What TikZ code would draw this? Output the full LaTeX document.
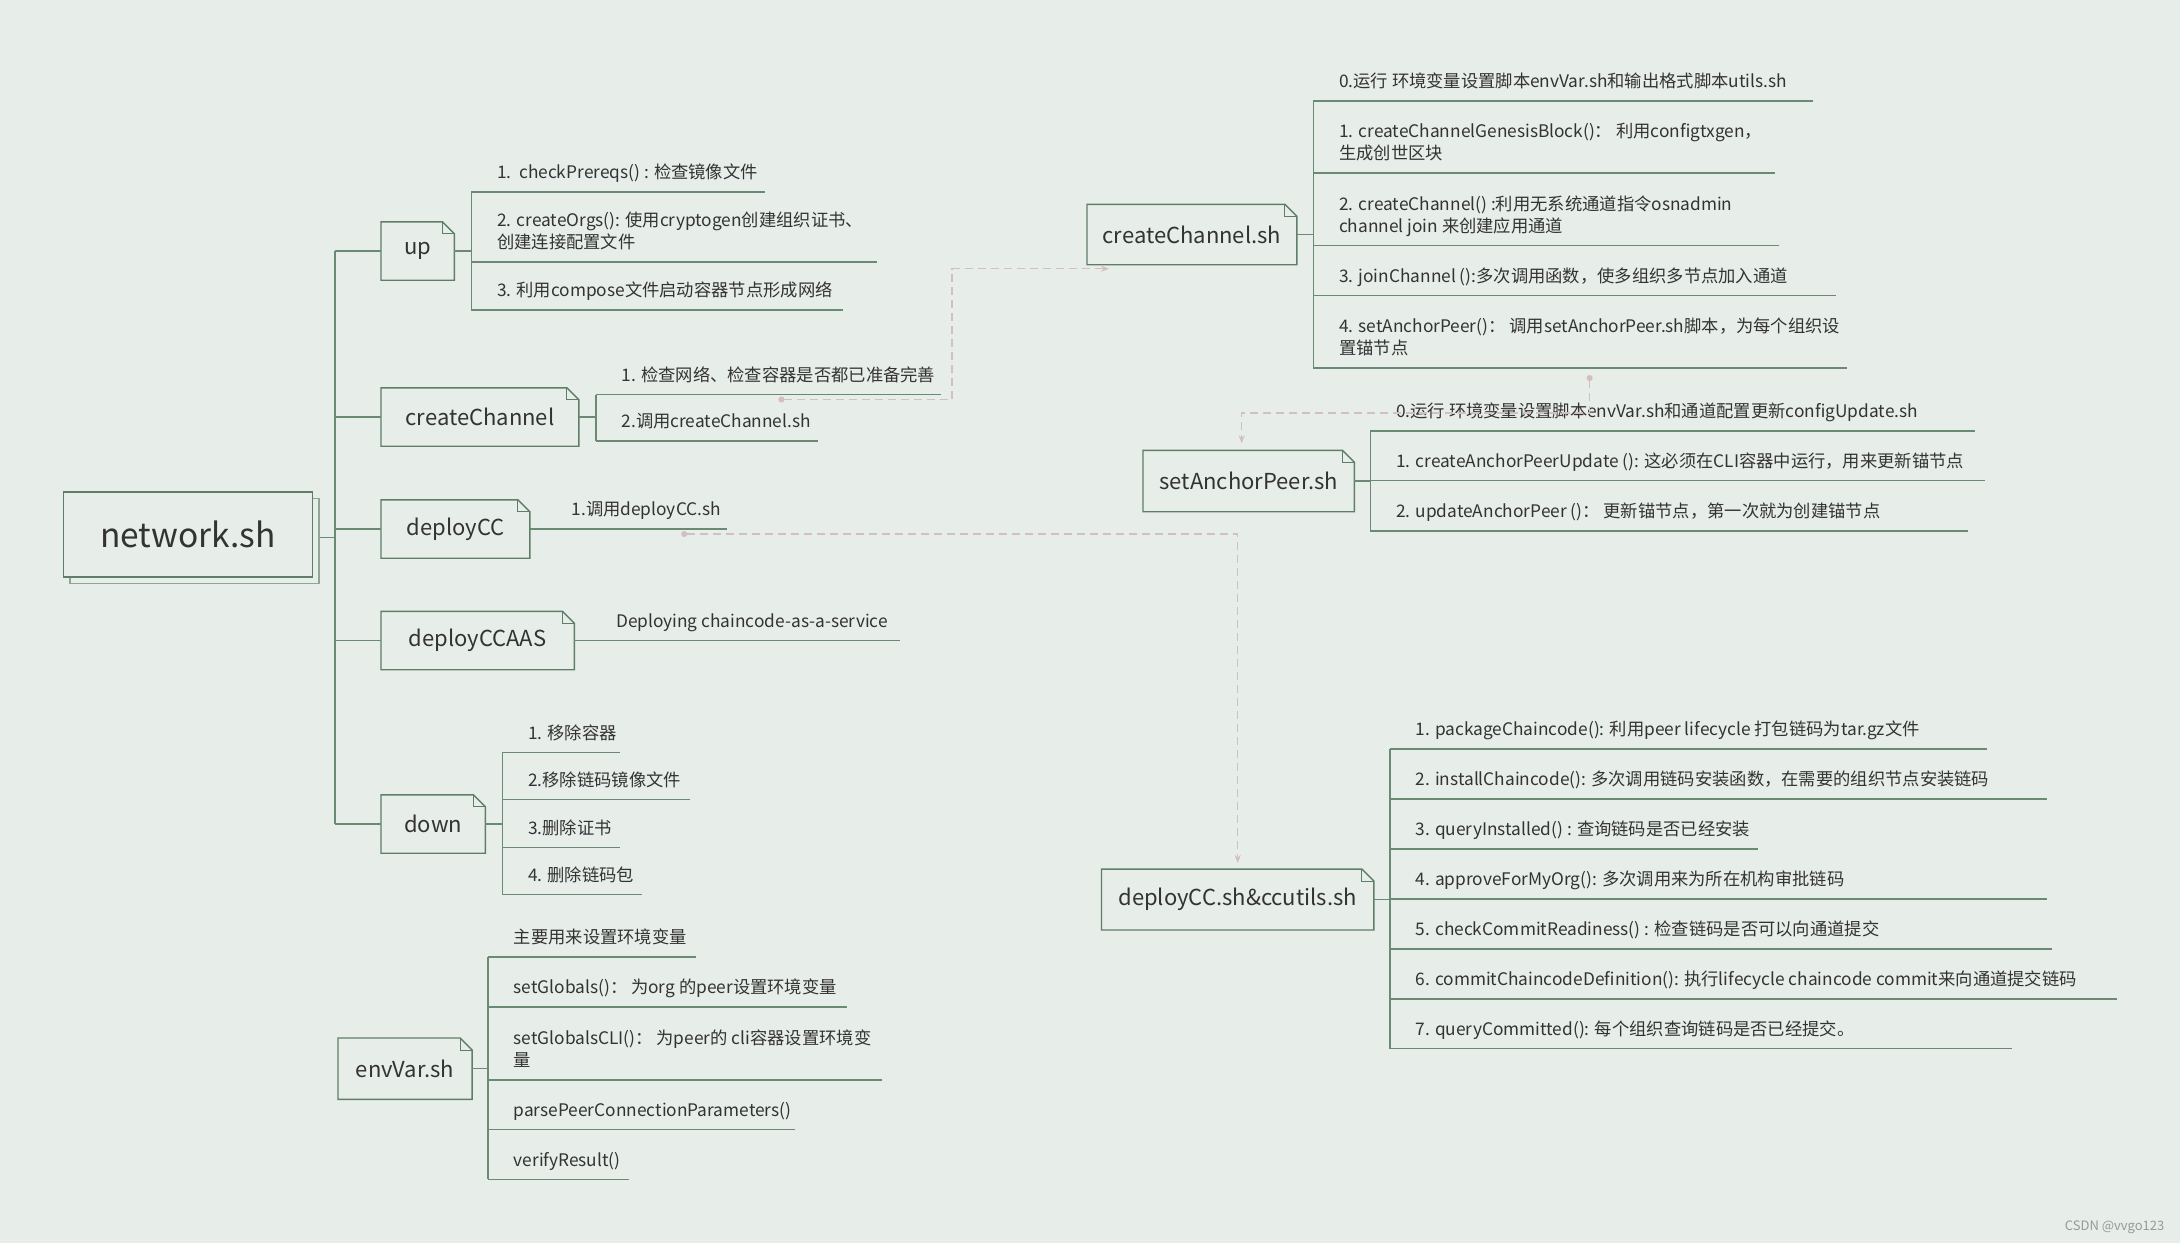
\documentclass[tikz,border=0pt]{standalone}
\usepackage{fontspec}
\setmainfont{Noto Sans CJK SC}
\usetikzlibrary{arrows.meta,shadows}

\definecolor{bg}{HTML}{E7EDE8}
\definecolor{lineg}{HTML}{5F7E67}
\definecolor{branchg}{HTML}{6B8A73}
\definecolor{shadowg}{HTML}{8EA795}
\definecolor{linkc}{HTML}{D3BEC4}
\definecolor{txt}{HTML}{333333}

\def\fold{12pt}

\begin{document}
\begin{tikzpicture}[x=1pt,y=-1pt,line width=1.4pt,text=txt]
  \tikzstyle{box}=[anchor=west,inner sep=0pt,minimum height=57pt,fill=bg,font=\fontsize{22}{27}\selectfont]
  \tikzstyle{leaf}=[anchor=south west,inner xsep=0pt,inner ysep=8pt,align=left,font=\fontsize{17.3}{22.3}\selectfont,execute at end node={\rule[-4.5pt]{0pt}{4.5pt}}]
  \tikzstyle{branch}=[draw=branchg]
  \tikzstyle{outline}=[draw=lineg]
  \tikzstyle{link}=[draw=linkc,dash pattern=on 8pt off 5pt,{Circle[length=6pt,fill=linkc]}-{Stealth[length=8pt,width=6pt]}]

  \fill[bg] (0,0) rectangle (2180,1243);
  \useasboundingbox (0,0) rectangle (2180,1243);

  % Draw the root and the script boxes
  \node[box,minimum width=249pt,minimum height=85pt,font=\fontsize{33.5}{38}\selectfont,draw=lineg,
        copy shadow={shadow xshift=6.5pt,shadow yshift=-6.5pt,draw=shadowg,fill=bg}] (net) at (62.6,534.3) {network.sh};
  \node[box,minimum width=72pt] (up) at (381,251) {up};
  \node[box,minimum width=196.5pt] (cch) at (381,417) {createChannel};
  \node[box,minimum width=147.5pt] (dc) at (381,529) {deployCC};
  \node[box,minimum width=192pt] (dca) at (381,640.5) {deployCCAAS};
  \node[box,minimum width=103pt] (dn) at (381,824) {down};
  \node[box,minimum width=132.7pt,minimum height=60pt] (env) at (338,1068.7) {envVar.sh};
  \node[box,minimum width=208.5pt,minimum height=59pt] (ccsh) at (1087,234.5) {createChannel.sh};
  \node[box,minimum width=210pt,minimum height=60pt] (sap) at (1143,481) {setAnchorPeer.sh};
  \node[box,minimum width=271pt,minimum height=59.5pt] (dcc) at (1101.5,899.5) {deployCC.sh\&ccutils.sh};

  % Outline with folded corner
  \foreach \b in {up,cch,dc,dca,dn,env,ccsh,sap,dcc}
  {
    \draw[outline] (\b.south west) -- (\b.north west) -- ([xshift=-\fold]\b.north east)
      -- ([yshift=-\fold]\b.north east) -- (\b.south east) -- cycle;
    \draw[outline,line width=1pt] ([xshift=-\fold]\b.north east) |- ([yshift=-\fold]\b.north east);
  }

  % Trunk from network.sh
  \coordinate (trk) at ([xshift=22pt,yshift=-3pt]net.east);
  \draw[branch] ([xshift=6.5pt,yshift=-3pt]net.east) -- (trk);
  \draw[branch] (trk |- up.west) -- (trk |- dn.west);
  \foreach \b in {up,cch,dc,dca,dn}
      \draw[branch] (trk |- \b.west) -- (\b.west);

  % up
  \coordinate (upb) at ([xshift=17pt]up.east);
  \foreach \n/\y/\e/\t in {u1/192/765/{1.\ \ checkPrereqs() : 检查镜像文件},
      u2/262/877/{2. createOrgs(): 使用cryptogen创建组织证书、\\创建连接配置文件},
      u3/310/843/{3. 利用compose文件启动容器节点形成网络}}
  {
      \node[leaf] (\n) at ([xshift=25pt]upb |- 0,\y) {\t};
      \draw[branch] (upb |- 0,\y) -- (\e,\y);
  }
  \draw[branch] (up.east) -- (upb);
  \draw[branch] (upb |- u1.south) -- (upb |- u3.south);

  % createChannel
  \coordinate (cchb) at ([xshift=17pt]cch.east);
  \foreach \n/\y/\e/\t in {c1/394.5/941/{1. 检查网络、检查容器是否都已准备完善},
      c2/441/817.5/{2.调用createChannel.sh}}
  {
      \node[leaf] (\n) at ([xshift=25pt]cchb |- 0,\y) {\t};
      \draw[branch] (cchb |- 0,\y) -- (\e,\y);
  }
  \draw[branch] (cch.east) -- (cchb);
  \draw[branch] (cchb |- c1.south) -- (cchb |- c2.south);

  % deployCC and deployCCAAS
  \node[leaf] (d1) at ([xshift=41pt]dc.east) {1.调用deployCC.sh};
  \draw[branch] (dc.east) -- (dc.east -| 727,0);
  \node[leaf] (a1) at ([xshift=41pt]dca.east) {Deploying chaincode-as-a-service};
  \draw[branch] (dca.east) -- (dca.east -| 899.5,0);

  % down
  \coordinate (dnb) at ([xshift=17pt]dn.east);
  \foreach \n/\y/\e/\t in {w1/752.5/620/{1. 移除容器},
      w2/799.7/690/{2.移除链码镜像文件},
      w3/847.4/620/{3.删除证书},
      w4/894.6/642/{4. 删除链码包}}
  {
      \node[leaf] (\n) at ([xshift=25pt]dnb |- 0,\y) {\t};
      \draw[branch] (dnb |- 0,\y) -- (\e,\y);
  }
  \draw[branch] (dn.east) -- (dnb);
  \draw[branch] (dnb |- w1.south) -- (dnb |- w4.south);

  % envVar.sh
  \coordinate (envb) at ([xshift=16pt]env.east);
  \foreach \n/\y/\e/\t in {e1/957/696/{主要用来设置环境变量},
      e2/1007/847/{setGlobals()： 为org 的peer设置环境变量},
      e3/1080/882/{setGlobalsCLI()： 为peer的 cli容器设置环境变\\量},
      e4/1129.4/795/{parsePeerConnectionParameters()},
      e5/1179.3/629/{verifyResult()}}
  {
      \node[leaf] (\n) at ([xshift=25pt]envb |- 0,\y) {\t};
      \draw[branch] (envb |- 0,\y) -- (\e,\y);
  }
  \draw[branch] (env.east) -- (envb);
  \draw[branch] (envb |- e1.south) -- (envb |- e5.south);

  % createChannel.sh
  \coordinate (ccshb) at ([xshift=16.5pt]ccsh.east);
  \foreach \n/\y/\e/\t in {k0/101/1813/{0.运行 环境变量设置脚本envVar.sh和输出格式脚本utils.sh},
      k1/173/1775/{1. createChannelGenesisBlock()： 利用configtxgen，\\生成创世区块},
      k2/245.7/1779/{2. createChannel() :利用无系统通道指令osnadmin\\channel join 来创建应用通道},
      k3/295.7/1836/{3. joinChannel ():多次调用函数，使多组织多节点加入通道},
      k4/368/1847/{4. setAnchorPeer()： 调用setAnchorPeer.sh脚本，为每个组织设\\置锚节点}}
  {
      \node[leaf] (\n) at ([xshift=25pt]ccshb |- 0,\y) {\t};
      \draw[branch] (ccshb |- 0,\y) -- (\e,\y);
  }
  \draw[branch] (ccsh.east) -- (ccshb);
  \draw[branch] (ccshb |- k0.south) -- (ccshb |- k4.south);

  % setAnchorPeer.sh
  \coordinate (sapb) at ([xshift=16pt]sap.east);
  \foreach \n/\y/\e/\t in {s0/431/1975/{0.运行 环境变量设置脚本envVar.sh和通道配置更新configUpdate.sh},
      s1/480.7/1985/{1. createAnchorPeerUpdate (): 这必须在CLI容器中运行，用来更新锚节点},
      s2/531/1968/{2. updateAnchorPeer ()： 更新锚节点，第一次就为创建锚节点}}
  {
      \node[leaf] (\n) at ([xshift=25pt]sapb |- 0,\y) {\t};
      \draw[branch] (sapb |- 0,\y) -- (\e,\y);
  }
  \draw[branch] (sap.east) -- (sapb);
  \draw[branch] (sapb |- s0.south) -- (sapb |- s2.south);

  % deployCC.sh&ccutils.sh
  \coordinate (dccb) at ([xshift=16pt]dcc.east);
  \foreach \n/\y/\e/\t in {p1/748.9/1987/{1. packageChaincode(): 利用peer lifecycle 打包链码为tar.gz文件},
      p2/799/2047/{2. installChaincode(): 多次调用链码安装函数，在需要的组织节点安装链码},
      p3/849/1758/{3. queryInstalled() : 查询链码是否已经安装},
      p4/898.8/2047/{4. approveForMyOrg(): 多次调用来为所在机构审批链码},
      p5/948.9/2052/{5. checkCommitReadiness() : 检查链码是否可以向通道提交},
      p6/999/2117/{6. commitChaincodeDefinition(): 执行lifecycle chaincode commit来向通道提交链码},
      p7/1048.7/2012/{7. queryCommitted(): 每个组织查询链码是否已经提交。}}
  {
      \node[leaf] (\n) at ([xshift=25pt]dccb |- 0,\y) {\t};
      \draw[branch] (dccb |- 0,\y) -- (\e,\y);
  }
  \draw[branch] (dcc.east) -- (dccb);
  \draw[branch] (dccb |- p1.south) -- (dccb |- p7.south);

  % Dashed links between the scripts
  \coordinate (ccin) at ([xshift=22pt,yshift=-4pt]ccsh.south west);
  \draw[link] ([yshift=-5pt]c1.south) -| (952,0 |- ccin) -- (ccin);
  \draw[link] ([xshift=35pt,yshift=-5pt]d1.south) -| ([yshift=6pt]dcc.north);
  \coordinate (sapin) at ([xshift=-7pt,yshift=7pt]sap.north);
  \draw[link] ([yshift=-7pt]k4.south) -- ([yshift=-7pt]k4.south |- 0,406) -| (sapin);

  \node[anchor=east,inner sep=0pt,text=black!40,font=\fontsize{13}{15}\selectfont] (wm) at (2165,1227) {CSDN @vvgo123};
\end{tikzpicture}
\end{document}
